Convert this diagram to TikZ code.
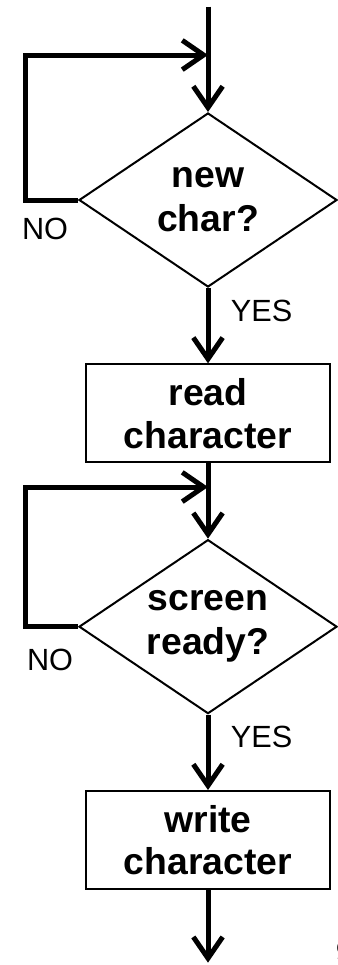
\documentclass[tikz,border=0pt]{standalone}
\usepackage{fontspec}
\setmainfont{Liberation Sans}
\usetikzlibrary{arrows.meta,shapes.geometric}
\tikzstyle{dec} = [diamond, draw, line width=1.5pt, shape aspect=1.5, inner sep=0pt,
    minimum width=193.5pt, minimum height=130.5pt, align=center,
    font=\bfseries\fontsize{28}{33}\selectfont]
\tikzstyle{act} = [rectangle, draw, line width=1.5pt, minimum width=183pt,
    minimum height=73.5pt, align=center, font=\bfseries\fontsize{28}{32}\selectfont]
\tikzstyle{lbl} = [font=\fontsize{23}{27}\selectfont]

\begin{document}
\begin{tikzpicture}[line width=3.75pt,
                    >={Straight Barb[length=16pt,width=22pt]},
                    node distance=160pt]
  \useasboundingbox (0,0) rectangle (252.75pt,-723.75pt);

  \node[dec] (d1) at (156pt,-150pt) {new\\char?};
  \node[act] (b1) [below of=d1] {read\\character};
  \node[dec] (d2) [below of=b1] {screen\\ready?};
  \node[act] (b2) [below of=d2] {write\\character};

  \coordinate (top) at (156pt,-5pt);
  \coordinate (bot) at (156pt,-722pt);
  \coordinate (j1) at (156pt,-41.25pt);
  \coordinate (j2) at (156pt,-365.25pt);
  \coordinate (l1) at (18.75pt,-150pt);
  \coordinate (l2) at (18.75pt,-470pt);

  \draw[->] (top) -- (d1.north);
  \draw[->] (d1.west) -- (l1) |- (j1);
  \draw[->] (d1.south) -- node[lbl, pos=0.3, right, xshift=12pt] {YES} (b1.north);
  \draw[->] (b1.south) -- (d2.north);
  \draw[->] (d2.west) -- (l2) |- (j2);
  \draw[->] (d2.south) -- node[lbl, pos=0.3, right, xshift=12pt] {YES} (b2.north);
  \draw[->] (b2.south) -- (bot);

  \node[lbl] (no1) at (33.75pt,-171.75pt) {NO};
  \node[lbl] (no2) at (37.5pt,-495pt) {NO};
  \node[lbl, anchor=west, inner sep=0pt] (pg) at (250pt,-714pt) {9};
\end{tikzpicture}
\end{document}
